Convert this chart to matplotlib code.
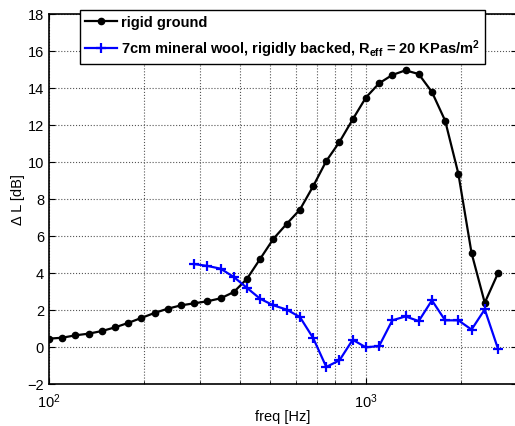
import numpy as np
import matplotlib
matplotlib.use("Agg")
import matplotlib.pyplot as plt
from matplotlib.ticker import LogLocator, NullFormatter

plt.rcParams['font.family'] = ['Liberation Sans', 'DejaVu Sans']
plt.rcParams['mathtext.fontset'] = 'custom'
plt.rcParams['mathtext.rm'] = 'Liberation Sans'
plt.rcParams['mathtext.it'] = 'Liberation Sans:italic'
plt.rcParams['mathtext.bf'] = 'Liberation Sans:bold'

# --- DATA ---
freq = [100.0, 110.1, 121.2, 133.4, 146.8, 161.6, 177.8, 195.7, 215.4, 237.1,
        261.0, 287.3, 316.2, 348.1, 383.1, 421.7, 464.2, 510.9, 562.3, 619.0,
        681.3, 749.9, 825.4, 908.5, 1000.0, 1100.7, 1211.5, 1333.5, 1467.8,
        1615.6, 1778.3, 1957.3, 2154.4, 2371.4, 2610.2]

rigid = [0.45, 0.50, 0.63, 0.72, 0.86, 1.06, 1.30, 1.57, 1.84, 2.07,
         2.25, 2.36, 2.47, 2.63, 2.97, 3.69, 4.77, 5.85, 6.65, 7.42,
         8.68, 10.05, 11.08, 12.30, 13.48, 14.25, 14.70, 14.95, 14.75,
         13.78, 12.23, 9.37, 5.08, 2.39, 3.98]

# mineral wool starts at 287 Hz
wool_freq = freq[11:]
wool = [4.48, 4.38, 4.23, 3.78, 3.19, 2.60, 2.25, 2.02, 1.62, 0.49,
        -1.08, -0.72, 0.39, -0.02, 0.05, 1.44, 1.65, 1.40, 2.52, 1.44,
        1.44, 0.94, 2.03, -0.09]

labels = ['rigid ground',
          r'7cm mineral wool, rigidly backed, $\mathbf{R_{eff}}$ = 20 KPas/m$^\mathbf{2}$']

fig = plt.figure(figsize=(5.15, 4.27), dpi=100)
ax = fig.add_axes([0.0951, 0.0984, 0.909, 0.8667])

ax.plot(freq, rigid, color='black', lw=1.6, marker='o', ms=4.5, label=labels[0])
ax.plot(wool_freq, wool, color='blue', lw=1.6, marker='+', ms=7, mew=1.6, label=labels[1])

ax.set_xscale('log')
ax.set_xlim(100, 3000)
ax.set_ylim(-2, 18)
ax.set_yticks(np.arange(-2, 19, 2))
ax.xaxis.set_major_locator(LogLocator(base=10))
ax.xaxis.set_minor_locator(LogLocator(base=10, subs=np.arange(2, 10)))
ax.xaxis.set_minor_formatter(NullFormatter())

ax.grid(True, which='major', ls=':', color='#555555', lw=0.8)
ax.grid(True, which='minor', axis='x', ls=':', color='#555555', lw=0.8)
ax.tick_params(which='both', direction='in', top=True, right=True, labelsize=10.5)
ax.tick_params(which='major', length=4)
ax.tick_params(which='minor', length=2)
ax.tick_params(axis='x', which='major', pad=5)
for s in ax.spines.values():
    s.set_linewidth(1.2)

ax.set_xlabel('freq [Hz]', fontsize=10.5)
ax.xaxis.set_label_coords(0.5, -0.068)
ax.set_ylabel('Δ L [dB]', fontsize=10.5, labelpad=2)

leg = ax.legend(loc='upper left', bbox_to_anchor=(0.155, 0.974),
                bbox_transform=fig.transFigure, borderaxespad=0,
                fancybox=False, framealpha=1, edgecolor='black',
                prop={'weight': 'bold', 'size': 10.5}, handlelength=2.2,
                handletextpad=0.25, labelspacing=0.55, borderpad=0.35)
leg.get_frame().set_linewidth(1.0)

fig.savefig('out.png', dpi=100)
